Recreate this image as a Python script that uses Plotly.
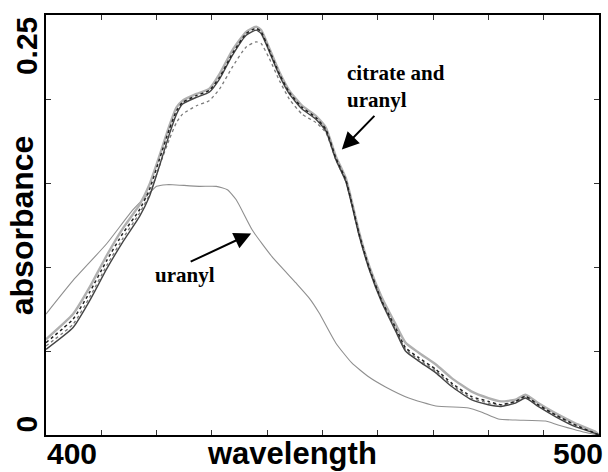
import plotly.graph_objects as go

# ---- data ----
wavelength_c = [400.0, 404.9, 407.9, 411.0, 413.9, 416.9, 418.7, 420.5, 422.3, 423.6, 424.7, 427.2,
                429.5, 431.4, 433.7, 436.2, 438.0, 438.9, 440.4, 442.2, 444.0, 446.3, 448.8, 450.6,
                452.4, 454.2, 455.3, 456.6, 458.4, 460.7, 463.2, 465.0, 467.4, 470.5, 473.3, 476.9,
                480.0, 482.3, 484.9, 486.7, 489.0, 492.1, 495.7, 499.3, 500.0]
citrate_1 = [0.055, 0.069, 0.085, 0.104, 0.120, 0.134, 0.146, 0.164, 0.182, 0.193, 0.198, 0.202,
             0.205, 0.213, 0.227, 0.239, 0.242, 0.240, 0.229, 0.215, 0.204, 0.195, 0.189, 0.182,
             0.165, 0.152, 0.138, 0.120, 0.100, 0.080, 0.064, 0.052, 0.046, 0.039, 0.031, 0.023,
             0.020, 0.018, 0.020, 0.023, 0.018, 0.012, 0.006, 0.001, 0.000]
citrate_2 = [0.051, 0.064, 0.080, 0.099, 0.115, 0.130, 0.142, 0.160, 0.179, 0.191, 0.197, 0.201,
             0.204, 0.212, 0.226, 0.238, 0.241, 0.239, 0.228, 0.214, 0.203, 0.194, 0.188, 0.181,
             0.164, 0.151, 0.137, 0.119, 0.099, 0.079, 0.062, 0.050, 0.044, 0.037, 0.029, 0.021,
             0.018, 0.017, 0.019, 0.022, 0.017, 0.011, 0.005, 0.001, 0.000]
citrate_3 = [0.057, 0.072, 0.088, 0.107, 0.123, 0.137, 0.149, 0.166, 0.184, 0.195, 0.199, 0.203,
             0.206, 0.215, 0.229, 0.240, 0.243, 0.241, 0.230, 0.216, 0.205, 0.196, 0.190, 0.183,
             0.166, 0.153, 0.139, 0.121, 0.101, 0.082, 0.066, 0.055, 0.049, 0.042, 0.034, 0.026,
             0.022, 0.020, 0.021, 0.024, 0.019, 0.013, 0.007, 0.002, 0.000]
citrate_4 = [0.053, 0.066, 0.082, 0.101, 0.117, 0.132, 0.143, 0.160, 0.176, 0.186, 0.191, 0.196,
             0.199, 0.206, 0.219, 0.231, 0.234, 0.233, 0.224, 0.211, 0.200, 0.191, 0.186, 0.180,
             0.164, 0.151, 0.137, 0.119, 0.099, 0.080, 0.063, 0.051, 0.045, 0.038, 0.030, 0.022,
             0.019, 0.018, 0.020, 0.023, 0.018, 0.012, 0.006, 0.001, 0.000]

wavelength_u = [400.0, 404.9, 411.0, 415.7, 418.7, 420.0, 421.8, 422.9, 427.7, 430.8, 432.8, 434.4,
                437.3, 440.9, 445.2, 447.6, 449.4, 452.4, 455.3, 458.4, 461.4, 465.6, 470.5, 476.4,
                478.7, 481.8, 484.9, 490.3, 492.6, 498.0, 500.0]
uranyl = [0.072, 0.092, 0.114, 0.134, 0.144, 0.148, 0.149, 0.149, 0.148, 0.148, 0.146, 0.140,
          0.122, 0.106, 0.0905, 0.0815, 0.0726, 0.0548, 0.0429, 0.0345, 0.0286, 0.0220, 0.0173, 0.0161,
          0.0137, 0.0095, 0.0089, 0.0083, 0.0060, 0.0012, 0.0]

x_ticks = [400, 410, 420, 430, 440, 450, 460, 470, 480, 490, 500]
y_ticks = [0, 0.05, 0.10, 0.15, 0.20, 0.25]

fig = go.Figure()

fig.add_trace(go.Scatter(x=wavelength_u, y=uranyl, mode="lines",
                         line=dict(color="#8f8f8f", width=1.1, shape="spline", smoothing=0.5),
                         showlegend=False))

for ys, col, w, dash in [(citrate_3, "#b0b0b0", 2.4, "solid"),
                         (citrate_4, "#7a7a7a", 1.3, "dot"),
                         (citrate_2, "#444444", 1.4, "solid"),
                         (citrate_1, "#222222", 1.5, "dot")]:
    fig.add_trace(go.Scatter(x=wavelength_c, y=ys, mode="lines",
                             line=dict(color=col, width=w, dash=dash, shape="spline", smoothing=0.5),
                             showlegend=False))

bold_sans = dict(family="Liberation Sans", size=30, color="black")
serif = dict(family="Liberation Serif", size=21, color="black")

annotations = [
    dict(text="<b>0.25</b>", xref="paper", yref="paper", x=-0.036, y=1.0, xanchor="center",
         yanchor="top", textangle=-90, showarrow=False, font=bold_sans),
    dict(text="<b>0</b>", xref="paper", yref="paper", x=-0.036, y=0.0, xanchor="center",
         yanchor="bottom", textangle=-90, showarrow=False, font=bold_sans),
    dict(text="<b>absorbance</b>", xref="paper", yref="paper", x=-0.043, y=0.5, xanchor="center",
         yanchor="middle", textangle=-90, showarrow=False,
         font=dict(family="Liberation Sans", size=32, color="black")),
    dict(text="<b>400</b>", xref="paper", yref="paper", x=(72 - 46) / 555, y=-0.043,
         xanchor="center", yanchor="middle", showarrow=False, font=bold_sans),
    dict(text="<b>500</b>", xref="paper", yref="paper", x=(580 - 46) / 555, y=-0.043,
         xanchor="center", yanchor="middle", showarrow=False, font=bold_sans),
    dict(text="<b>wavelength</b>", xref="paper", yref="paper", x=(293 - 46) / 555, y=-0.045,
         xanchor="center", yanchor="middle", showarrow=False,
         font=dict(family="Liberation Sans", size=31, color="black")),
    dict(text="<b>citrate and<br>uranyl</b>", x=454.0, y=0.2077, xanchor="left", yanchor="middle",
         align="left", showarrow=False, font=serif),
    dict(text="<b>uranyl</b>", x=419.4, y=0.0952, xanchor="left", yanchor="middle",
         showarrow=False, font=serif),
    dict(text="", x=453.5, y=0.170, ax=34, ay=-35, showarrow=True, arrowhead=2,
         arrowsize=1.7, arrowwidth=2, arrowcolor="black"),
    dict(text="", x=437.1, y=0.120, ax=-62, ay=29, showarrow=True, arrowhead=2,
         arrowsize=1.7, arrowwidth=2, arrowcolor="black"),
]

fig.update_layout(
    width=608, height=472,
    margin=dict(l=46, r=7, t=15, b=37),
    paper_bgcolor="white", plot_bgcolor="white",
    annotations=annotations,
    xaxis=dict(range=[400, 500], tickvals=x_ticks, showticklabels=False, ticks="inside",
               ticklen=5, tickwidth=1, tickcolor="#333", showline=True, linecolor="black",
               linewidth=1.5, mirror="ticks", showgrid=False, zeroline=False),
    yaxis=dict(range=[0, 0.25], tickvals=y_ticks, showticklabels=False, ticks="inside",
               ticklen=5, tickwidth=1, tickcolor="#333", showline=True, linecolor="black",
               linewidth=1.5, mirror="ticks", showgrid=False, zeroline=False),
)

fig.write_html("out.html")
